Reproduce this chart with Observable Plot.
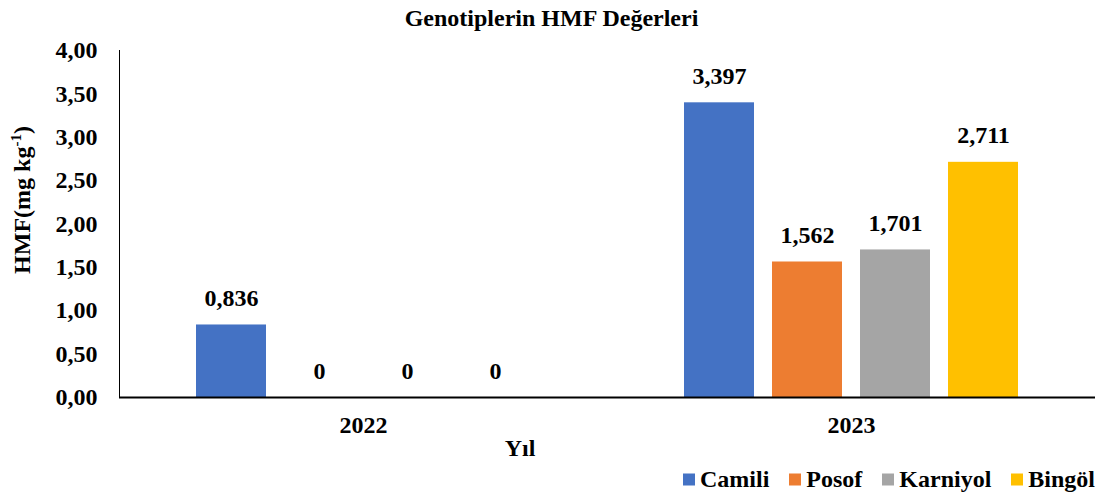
<!DOCTYPE html>
<html>
<head>
<meta charset="utf-8">
<script src="https://cdn.jsdelivr.net/npm/d3@7"></script>
<script src="https://cdn.jsdelivr.net/npm/@observablehq/plot@0.6"></script>
<style>
  body { margin: 0; background: #fff; }
  #wrap { position: relative; width: 1099px; height: 493px; font-family: "Liberation Serif", Tinos, "Times New Roman", Times, "Noto Serif", "DejaVu Serif", serif; font-weight: bold; color: #000; }
  #wrap svg { position: absolute; left: 0; top: 0; }
  .abs { position: absolute; white-space: nowrap; }
  #title { left: 0; width: 1103px; top: 5px; text-align: center; font-size: 24px; }
  #ylab { left: 22px; top: 200px; font-size: 24px; transform: translate(-50%, -50%) rotate(-90deg); }
  #ylab sup { font-size: 15px; vertical-align: 9px; line-height: 0; }
  #xlab { left: 520px; top: 448px; font-size: 24px; transform: translate(-50%, -50%); }
  #legend { left: 683px; top: 479px; transform: translateY(-50%); display: flex; align-items: center; font-size: 24px; }
  .item { display: flex; align-items: center; margin-right: 20px; }
  .sw { width: 12px; height: 12px; margin-right: 5px; }
</style>
</head>
<body>
<div id="wrap"></div>
<script>
const years = ["2022", "2023"];
const genotypes = ["Camili", "Posof", "Karniyol", "Bingöl"];
const colors = ["#4472C4", "#ED7D31", "#A5A5A5", "#FFC000"];
const values2022 = [0.836, 0, 0, 0];
const values2023 = [3.397, 1.562, 1.701, 2.711];
const valueLabels2022 = ["0,836", "0", "0", "0"];
const valueLabels2023 = ["3,397", "1,562", "1,701", "2,711"];
const yTicks = [0, 0.5, 1, 1.5, 2, 2.5, 3, 3.5, 4];
const titleText = "Genotiplerin HMF Değerleri";
const xLabelText = "Yıl";

const serif = '"Liberation Serif", Tinos, "Times New Roman", Times, "Noto Serif", "DejaVu Serif", serif';

const data = [];
genotypes.forEach((g, i) => {
  data.push({year: years[0], genotype: g, value: values2022[i], label: valueLabels2022[i]});
  data.push({year: years[1], genotype: g, value: values2023[i], label: valueLabels2023[i]});
});

const chart = Plot.plot({
  width: 1099,
  height: 493,
  marginTop: 50,
  marginBottom: 96,
  marginLeft: 119,
  marginRight: 4,
  style: {fontFamily: serif, fontWeight: "bold", fontSize: "24px", color: "#000", background: "transparent"},
  fx: {domain: years, padding: 0, label: null, axis: "bottom", tickSize: 0, tickPadding: 18},
  x: {domain: genotypes, axis: null, paddingInner: 0.207, paddingOuter: 0.867},
  y: {domain: [0, 4], ticks: yTicks, tickFormat: d => d.toFixed(2).replace(".", ","), tickSize: 0, tickPadding: 22, label: null, line: true},
  color: {domain: genotypes, range: colors},
  marks: [
    Plot.barY(data, {fx: "year", x: "genotype", y: "value", fill: "genotype"}),
    Plot.text(data, {fx: "year", x: "genotype", y: "value", text: "label", lineAnchor: "bottom", dy: -19, fontSize: 24, fontWeight: "bold", fill: "#000"}),
    Plot.ruleY([0], {stroke: "#000", strokeWidth: 2})
  ]
});

const wrap = document.getElementById("wrap");
wrap.appendChild(chart);

const title = document.createElement("div");
title.className = "abs"; title.id = "title"; title.textContent = titleText;
wrap.appendChild(title);

const ylab = document.createElement("div");
ylab.className = "abs"; ylab.id = "ylab";
ylab.innerHTML = "HMF(mg kg<sup>-1</sup>)";
wrap.appendChild(ylab);

const xlab = document.createElement("div");
xlab.className = "abs"; xlab.id = "xlab"; xlab.textContent = xLabelText;
wrap.appendChild(xlab);

const legend = document.createElement("div");
legend.className = "abs"; legend.id = "legend";
genotypes.forEach((g, i) => {
  const item = document.createElement("div");
  item.className = "item";
  const sw = document.createElement("span");
  sw.className = "sw"; sw.style.background = colors[i];
  const t = document.createElement("span");
  t.textContent = g;
  item.appendChild(sw); item.appendChild(t);
  legend.appendChild(item);
});
wrap.appendChild(legend);
</script>
</body>
</html>
